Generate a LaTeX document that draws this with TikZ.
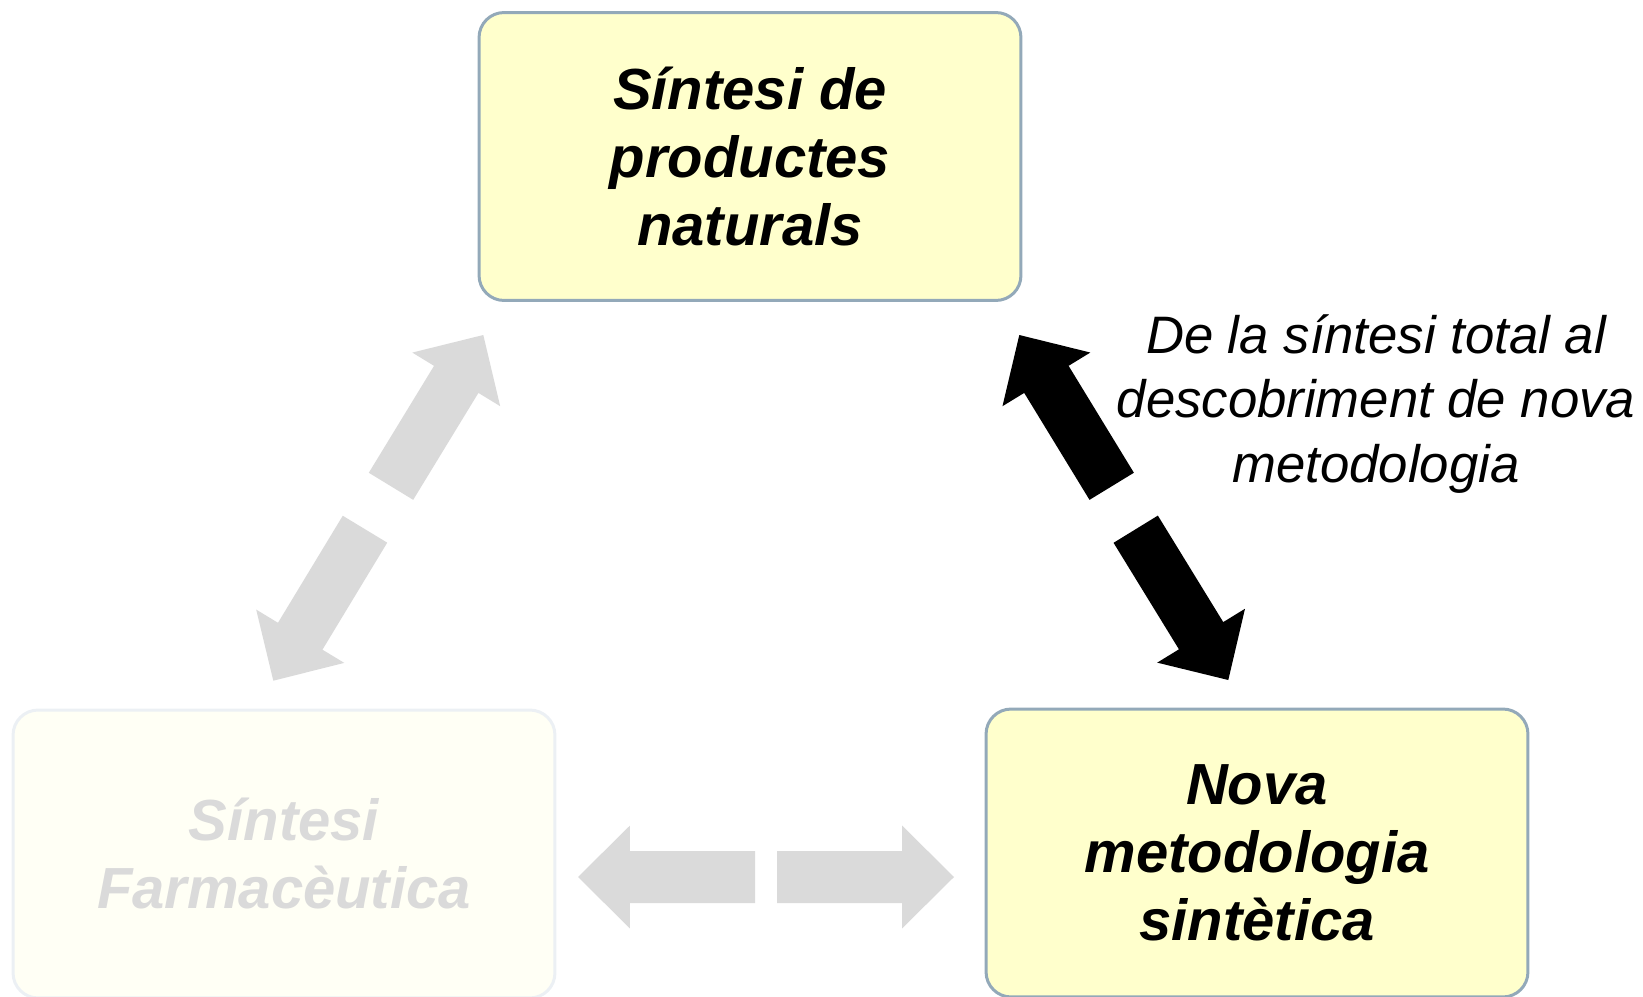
\documentclass[tikz,border=0pt]{standalone}
\usepackage{fontspec}
\setsansfont{Liberation Sans}
\usetikzlibrary{calc, positioning}
\definecolor{boxfill}{RGB}{255,255,204}
\definecolor{boxedge}{RGB}{147,169,185}
\definecolor{fadefill}{RGB}{255,255,245}
\definecolor{fadeedge}{RGB}{236,240,244}
\definecolor{fadegray}{RGB}{218,218,218}
\tikzset{
  stagebox/.style={
    rectangle,
    rounded corners = 0.5cm,
    draw = boxedge,
    fill = boxfill,
    line width = 0.06cm,
    minimum width = 10.84cm,
    minimum height = 5.76cm,
    align = center,
    font = \sffamily\bfseries\itshape\fontsize{33pt}{38.7pt}\selectfont
  },
  fadedbox/.style={
    stagebox,
    draw = fadeedge,
    fill = fadefill,
    text = fadegray
  },
  sidelabel/.style={
    align = center,
    font = \sffamily\itshape\fontsize{30pt}{36.7pt}\selectfont
  }
}
% one half of a split block arrow: [colour]{tail}{tip}
\newcommand{\halfarrow}[3][black]{%
  \coordinate (hb) at ($(#3)!1.04cm!(#2)$);
  \fill[#1] ($(#2)!0.52cm!90:(#3)$) -- ($(hb)!0.52cm!90:(#3)$)
    -- ($(hb)!1.03cm!90:(#3)$) -- (#3) -- ($(hb)!1.03cm!-90:(#3)$)
    -- ($(hb)!0.52cm!-90:(#3)$) -- ($(#2)!0.52cm!-90:(#3)$) -- cycle;
}

\begin{document}
\begin{tikzpicture}[x=0.02cm, y=-0.02cm]
    \useasboundingbox (0,0) rectangle (1643,997);
    \coordinate (topc) at (750,156.5);
    \coordinate (rightc) at (1257,853);
    \coordinate (leftc) at (284,854);
    \node[stagebox] (natural) at (topc) {Síntesi de\\productes\\naturals};
    \node[stagebox] (method) at (rightc) {Nova\\metodologia\\sintètica};
    \node[fadedbox] (pharma) at (leftc) {Síntesi\\Farmacèutica};
    \node[sidelabel] (discovery) at (1376,404) {De la síntesi total al\\descobriment de nova\\metodologia};

    % black arrow between natural and method
    \coordinate (bkup) at (1111.7,486.3);
    \coordinate (bkuptip) at (1019.3,335);
    \coordinate (bkdown) at (1135.7,529.2);
    \coordinate (bkdowntip) at (1228.3,680);
    \halfarrow{bkup}{bkuptip}
    \halfarrow{bkdown}{bkdowntip}

    % faded arrows towards pharma
    \coordinate (grup) at (391,486.3);
    \coordinate (gruptip) at (483.3,335);
    \coordinate (grdown) at (365,529.2);
    \coordinate (grdowntip) at (273.3,680.7);
    \halfarrow[fadegray]{grup}{gruptip}
    \halfarrow[fadegray]{grdown}{grdowntip}
    \coordinate (grleft) at (755,877);
    \coordinate (grlefttip) at (578,877);
    \coordinate (grright) at (777,877);
    \coordinate (grrighttip) at (954,877);
    \halfarrow[fadegray]{grleft}{grlefttip}
    \halfarrow[fadegray]{grright}{grrighttip}
\end{tikzpicture}
\end{document}
